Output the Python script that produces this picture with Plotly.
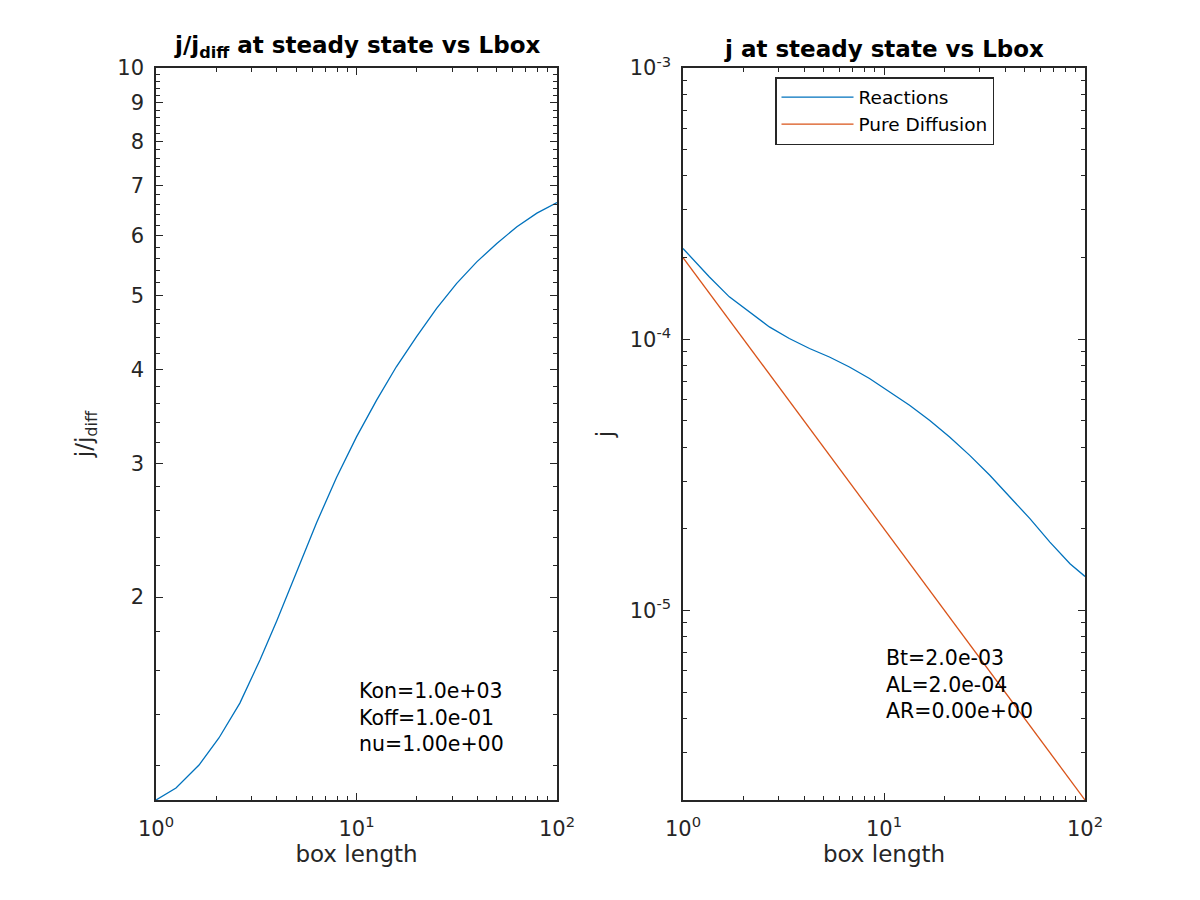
import plotly.graph_objects as go
import numpy as np

# ---- data ----
L_ratio = [1, 1.258, 1.639, 2.06, 2.62, 3.30, 4.0, 5.0, 6.33, 7.95, 10.0, 12.6, 15.8,
           19.9, 25.1, 31.6, 39.8, 50.1, 63.1, 79.4, 100]
ratio = [1.079, 1.119, 1.200, 1.303, 1.449, 1.652, 1.86, 2.15, 2.51, 2.878, 3.256, 3.641,
         4.03, 4.415, 4.814, 5.194, 5.545, 5.864, 6.17, 6.43, 6.64]

L_j = [1, 1.35, 1.70, 2.14, 2.69, 3.38, 4.26, 5.35, 6.73, 8.47, 10.66, 13.4, 16.9, 21.2,
       26.7, 33.6, 42.3, 53.2, 66.9, 84.2, 100]
j_react = [2.16e-4, 1.70e-4, 1.433e-4, 1.26e-4, 1.11e-4, 1.006e-4, 0.924e-4, 0.860e-4,
           0.790e-4, 0.716e-4, 0.639e-4, 0.571e-4, 0.502e-4, 0.436e-4, 0.373e-4, 0.315e-4,
           0.262e-4, 0.218e-4, 0.1786e-4, 0.1487e-4, 0.1335e-4]

L_diff = [1, 10, 100]
j_diff = [2e-4, 2e-5, 2e-6]

x_ticks = [1, 10, 100]
x_ticktext = ["10<sup>0</sup>", "10<sup>1</sup>", "10<sup>2</sup>"]
ratio_ticks = [2, 3, 4, 5, 6, 7, 8, 9, 10]
j_ticks = [1e-5, 1e-4, 1e-3]
j_ticktext = ["10<sup>-5</sup>", "10<sup>-4</sup>", "10<sup>-3</sup>"]

params_left = "Kon=1.0e+03<br>Koff=1.0e-01<br>nu=1.00e+00"
params_right = "Bt=2.0e-03<br>AL=2.0e-04<br>AR=0.00e+00"

BLUE = "#0072BD"
ORANGE = "#D95319"
AX = "#262626"
FONT = "DejaVu Sans"
TICK_SIZE = 21
LABEL_SIZE = 23

W, H = 1200, 900
OFF = 8  # page body margin of the browser

def px_x(a, b):
    return [(a - OFF) / W, (b - OFF) / W]
def px_y(top, bottom):
    return [(H - (bottom - OFF)) / H, (H - (top - OFF)) / H]
def fx(a):
    return (a - OFF) / W
def fy(t):
    return (H - (t - OFF)) / H

x_minor = [m * d for d in [1, 10] for m in range(2, 10)]
ratio_minor = [round(v, 2) for v in np.arange(1.2, 10.0, 0.2) if abs(v - round(v)) > 1e-6]
j_minor = [m * d for d in [1e-6, 1e-5, 1e-4] for m in range(2, 10)]

fig = go.Figure()
fig.add_trace(go.Scatter(x=L_ratio, y=ratio, mode="lines", line=dict(color=BLUE, width=1.3),
                         xaxis="x", yaxis="y", showlegend=False))
fig.add_trace(go.Scatter(x=L_j, y=j_react, mode="lines", name="Reactions",
                         line=dict(color=BLUE, width=1.3), xaxis="x2", yaxis="y2"))
fig.add_trace(go.Scatter(x=L_diff, y=j_diff, mode="lines", name="Pure Diffusion",
                         line=dict(color=ORANGE, width=1.3), xaxis="x2", yaxis="y2"))

common = dict(showline=True, linecolor=AX, linewidth=1.5, mirror="allticks",
              ticks="inside", ticklen=7, tickwidth=1, tickcolor=AX,
              showgrid=False, zeroline=False, automargin=False,
              tickfont=dict(family=FONT, size=TICK_SIZE, color=AX))

xax = dict(common, type="log", range=[0, 2], tickmode="array", tickvals=x_ticks,
           ticktext=x_ticktext, ticklabelstandoff=9,
           minor=dict(tickmode="array", tickvals=x_minor, ticks="inside", ticklen=4,
                      tickcolor=AX, tickwidth=1),
           title=dict(text="box length", font=dict(family=FONT, size=LABEL_SIZE, color=AX),
                      standoff=6))

fig.update_layout(
    width=W, height=H, margin=dict(l=0, r=0, t=0, b=0, autoexpand=False),
    paper_bgcolor="white", plot_bgcolor="white",
    font=dict(family=FONT, color=AX),
    xaxis=dict(xax, domain=px_x(156, 557), anchor="y"),
    xaxis2=dict(xax, domain=px_x(683, 1085), anchor="y2"),
    yaxis=dict(common, type="log", range=[np.log10(1.079), 1], anchor="x",
               domain=px_y(68, 800), tickmode="array", tickvals=ratio_ticks,
               ticktext=[str(t) for t in ratio_ticks], ticklabelstandoff=6,
               minor=dict(tickmode="array", tickvals=ratio_minor, ticks="inside",
                          ticklen=4, tickcolor=AX, tickwidth=1),
               title=dict(text="j/j<sub>diff</sub>",
                          font=dict(family=FONT, size=LABEL_SIZE, color=AX), standoff=18)),
    yaxis2=dict(common, type="log", range=[np.log10(2e-6), -3], anchor="x2",
                domain=px_y(68, 800), tickmode="array", tickvals=j_ticks,
                ticktext=j_ticktext, ticklabelstandoff=6,
                minor=dict(tickmode="array", tickvals=j_minor, ticks="inside",
                           ticklen=4, tickcolor=AX, tickwidth=1),
                title=dict(text="j", font=dict(family=FONT, size=LABEL_SIZE, color=AX),
                           standoff=10)),
    legend=dict(x=fx(775), y=fy(77), xanchor="left", yanchor="top",
                bgcolor="white", bordercolor=AX, borderwidth=1.5,
                font=dict(family=FONT, size=18.5, color="black"),
                itemwidth=72, tracegroupgap=0),
    annotations=[
        dict(text="<b>j/j<sub>diff</sub> at steady state vs Lbox</b>", xref="paper",
             yref="paper", x=fx(356.5), y=fy(64), xanchor="center", yanchor="bottom",
             showarrow=False, font=dict(family=FONT, size=LABEL_SIZE, color="black")),
        dict(text="<b>j at steady state vs Lbox</b>", xref="paper",
             yref="paper", x=fx(884), y=fy(64), xanchor="center", yanchor="bottom",
             showarrow=False, font=dict(family=FONT, size=LABEL_SIZE, color="black")),
        dict(text=params_left, xref="x", yref="y", x=1.0, y=np.log10(1.385),
             xanchor="left", yanchor="middle", align="left", showarrow=False,
             font=dict(family=FONT, size=20.5, color="black")),
        dict(text=params_right, xref="x2", yref="y2", x=1.0, y=np.log10(5.33e-6),
             xanchor="left", yanchor="middle", align="left", showarrow=False,
             font=dict(family=FONT, size=20.5, color="black")),
    ],
)

fig.write_html("out.html")
